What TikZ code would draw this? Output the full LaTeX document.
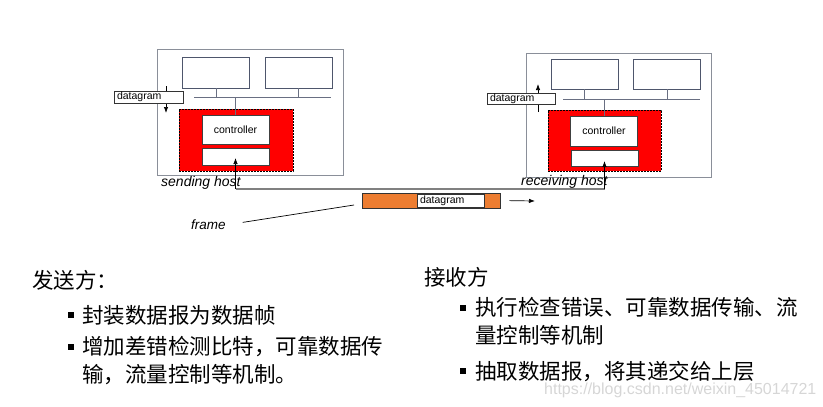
\documentclass[tikz,border=0pt]{standalone}
\usepackage{fontspec}
\setmainfont{Liberation Sans}
\newfontfamily\cjk{Noto Sans CJK SC}
\usepackage{xcolor}
\usetikzlibrary{arrows.meta}

\definecolor{hostgray}{RGB}{138,143,153}
\definecolor{unitslate}{RGB}{78,86,108}
\definecolor{nicred}{RGB}{255,0,0}
\definecolor{frameorange}{RGB}{237,125,49}
\definecolor{markgray}{RGB}{214,214,214}

\begin{document}
\begin{tikzpicture}[
  x=1pt, y=-1pt,
  % ---- boxes -------------------------------------------------------------
  hostbox/.style={draw=hostgray, line width=0.9pt, inner sep=0pt},
  unitbox/.style={
    draw=unitslate, line width=0.9pt, fill=white, inner sep=0pt,
    minimum width=67pt, minimum height=31pt},
  nicbox/.style={
    draw=black, line width=0.6pt, dash pattern=on 1.6pt off 1.4pt,
    fill=nicred, inner sep=0pt},
  ctrlbox/.style={
    draw=black!75, line width=1pt, fill=white, inner sep=0pt,
    minimum width=67pt, font=\fontsize{10.5}{12}\selectfont},
  dgbox/.style={
    draw=black!80, line width=0.9pt, fill=white, inner ysep=0pt, inner xsep=3pt,
    text width=63pt, align=left, minimum height=12pt,
    font=\fontsize{10.5}{12}\selectfont},
  framebox/.style={
    draw=black!80, line width=0.9pt, fill=frameorange, inner sep=0pt,
    minimum width=138pt, minimum height=15pt},
  % ---- labels ------------------------------------------------------------
  hostlabel/.style={anchor=west, inner sep=0pt, font=\itshape\fontsize{14}{16}\selectfont},
  cjktext/.style={anchor=west, inner sep=0pt, align=left,
    font=\cjk\fontsize{21.5}{28}\selectfont},
  bulletmark/.style={fill=black, inner sep=0pt, minimum size=5.4pt},
  % ---- edges -------------------------------------------------------------
  bus/.style={draw=unitslate!85, line width=0.8pt},
  flow/.style={draw=black, line width=0.7pt, -{Latex[length=6pt,width=4.4pt]}},
  link/.style={draw=black!50, line width=1.2pt},
  pointer/.style={draw=black, line width=0.7pt},
]

\useasboundingbox (0,0) rectangle (823,407);

% ---- sending host ----------------------------------------------------------
\node[hostbox, minimum width=186pt, minimum height=126pt] (hostS) at (250,112) {};
\node[unitbox] (cpuS) at (216,72.5) {};
\node[unitbox] (memS) at (298.5,72.5) {};
\coordinate (busSl) at (194,97);
\coordinate (busSr) at (331,97);
\draw[bus] (busSl) -- (busSr);
\draw[bus] (cpuS.south) -- (cpuS.south |- busSl);
\draw[bus] (memS.south) -- (memS.south |- busSl);

\node[nicbox, minimum width=114pt, minimum height=62pt] (nicS) at (236,140) {};
\node[ctrlbox, minimum height=29pt] (ctrlS) at (235.5,129.5) {controller};
\node[ctrlbox, minimum height=17pt] (linkS) at (235.5,156.5) {};
\draw[bus] (ctrlS.north) -- (ctrlS.north |- busSl);

\coordinate (dgS1) at (166,86);
\coordinate (dgS2) at (166,113);
\draw[flow] (dgS1) -- (dgS2);
\node[dgbox, text width=63pt] (dgS) at (148.5,97) {datagram};

\node[hostlabel] (nameS) at (161,183) {sending host};

% ---- receiving host --------------------------------------------------------
\node[hostbox, minimum width=185pt, minimum height=124pt] (hostR) at (618.5,115) {};
\node[unitbox, minimum height=30pt] (cpuR) at (584.5,74) {};
\node[unitbox, minimum height=30pt] (memR) at (667,74) {};
\coordinate (busRl) at (563,99);
\coordinate (busRr) at (700,99);
\draw[bus] (busRl) -- (busRr);
\draw[bus] (cpuR.south) -- (cpuR.south |- busRl);
\draw[bus] (memR.south) -- (memR.south |- busRl);

\node[nicbox, minimum width=113pt, minimum height=61pt] (nicR) at (604.5,140.5) {};
\node[ctrlbox, minimum height=30pt] (ctrlR) at (604,131) {controller};
\node[ctrlbox, minimum height=16pt] (linkR) at (604.5,158) {};
\draw[bus] (ctrlR.north) -- (ctrlR.north |- busRl);

\coordinate (dgR1) at (538,112);
\coordinate (dgR2) at (538,84);
\draw[flow] (dgR1) -- (dgR2);
\node[dgbox, text width=62pt, minimum height=11pt] (dgR) at (521,98.5) {datagram};

\node[hostlabel] (nameR) at (521,182) {receiving host};

% ---- link between adapters -------------------------------------------------
\coordinate (wire) at (0,189);
\draw[link] (linkS.center |- wire) -- (linkR.center |- wire);
\draw[flow] (linkS.center |- wire) -- ([yshift=-1.5pt]linkS.center);
\draw[flow] (linkR.center |- wire) -- ([yshift=-3pt]linkR.center);

% ---- frame on the link -----------------------------------------------------
\node[framebox] (fr) at (431,200.5) {};
\node[dgbox, text width=61pt, minimum height=13pt] (frdg) at (450.5,200.5) {datagram};
\coordinate (mvB) at (535,201);
\draw[flow, shorten <=9pt] (fr.east) -- (mvB);

\node[hostlabel, font=\itshape\fontsize{13.5}{16}\selectfont] (flabel) at (191,225) {frame};
\coordinate (frtip) at (354,205);
\draw[pointer, shorten <=17pt] (flabel.east) -- (frtip);

% ---- sender duties ---------------------------------------------------------
\node[cjktext] (sendhead) at (32,280) {发送方：};
\node[bulletmark] (sb1) at (71,315) {};
\node[cjktext] (sendi1) at (82,315) {封装数据报为数据帧};
\node[bulletmark] (sb2) at (71,347) {};
\node[cjktext] (sendi2) at (82,361) {增加差错检测比特，可靠数据传\\输，流量控制等机制。};

% ---- receiver duties -------------------------------------------------------
\node[cjktext] (recvhead) at (424,277) {接收方};
\node[bulletmark] (rb1) at (463,308) {};
\node[cjktext] (recvi1) at (475,321.5) {执行检查错误、可靠数据传输、流\\量控制等机制};
\node[bulletmark] (rb2) at (463,371) {};
\node[cjktext] (recvi2) at (475,372) {抽取数据报，将其递交给上层};

% ---- watermark -------------------------------------------------------------
\node[anchor=west, inner sep=0pt, text=markgray, font=\fontsize{16}{18}\selectfont]
  (mark) at (544,390) {https://blog.csdn.net/weixin\_45014721};

\end{tikzpicture}
\end{document}
